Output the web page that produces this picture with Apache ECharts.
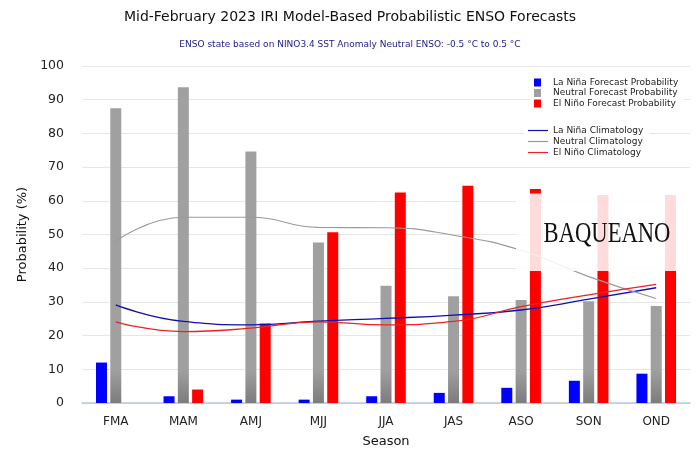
<!DOCTYPE html>
<html>
<head>
<meta charset="utf-8">
<script src="https://cdn.jsdelivr.net/npm/echarts@6/dist/echarts.min.js"></script>
<style>
  html, body { margin: 0; padding: 0; background: #fff; }
  #main { width: 700px; height: 467px; }
</style>
</head>
<body>
<div id="main"></div>
<script>
var seasons = ['FMA', 'MAM', 'AMJ', 'MJJ', 'JJA', 'JAS', 'ASO', 'SON', 'OND'];

// forecast probabilities (%)
var laNinaProb  = [12, 2, 1, 1, 2, 3, 4.5, 6.6, 8.7];
var neutralProb = [87.5, 93.7, 74.6, 47.6, 34.8, 31.7, 30.6, 30.2, 28.8];
var elNinoProb  = [0, 4, 23.6, 50.7, 62.5, 64.5, 63.5, 61.7, 61.7];

// climatology (%)
var laNinaClim  = [29.1, 24.2, 23.2, 24.3, 25.1, 26.1, 27.6, 30.8, 34.2];
var neutralClim = [48, 55.1, 55.1, 52.1, 52, 49.8, 45.3, 37.5, 31];
var elNinoClim  = [24.1, 21.2, 22.2, 24.1, 23.2, 24.2, 28.6, 32.1, 35.2];

var yTicks = { min: 0, max: 100, step: 10 };

var myChart = echarts.init(document.getElementById('main'));
var font = 'DejaVu Sans';

// neutral bars get darker near the base
var grayFill = new echarts.graphic.LinearGradient(0, 370, 0, 403, [
    { offset: 0, color: '#a0a0a0' },
    { offset: 1, color: '#7c7c7c' }
], true);

option = {
    backgroundColor: '#fff',
    animation: false,
    title: [{
        text: 'Mid-February 2023 IRI Model-Based Probabilistic ENSO Forecasts',
        left: 'center',
        top: 5,
        textStyle: { fontFamily: font, fontSize: 14, fontWeight: 'normal', color: '#111' }
    }, {
        text: 'ENSO state based on NINO3.4 SST Anomaly Neutral ENSO: -0.5 °C to 0.5 °C',
        left: 'center',
        top: 35,
        textStyle: { fontFamily: font, fontSize: 9, fontWeight: 'normal', color: '#1c1c88' }
    }],
    legend: [{
        data: ['La Niña Forecast Probability', 'Neutral Forecast Probability', 'El Niño Forecast Probability'],
        orient: 'vertical',
        left: 530,
        top: 74,
        padding: [4, 6, 4, 4],
        backgroundColor: '#fff',
        icon: 'rect',
        itemWidth: 7,
        itemHeight: 8,
        itemGap: 1.5,
        textStyle: { fontFamily: font, fontSize: 9, color: '#222', padding: [0, 0, 0, 7] }
    }, {
        data: ['La Niña Climatology', 'Neutral Climatology', 'El Niño Climatology'],
        orient: 'vertical',
        left: 524,
        top: 122,
        padding: [4, 6, 4, 4],
        backgroundColor: '#fff',
        icon: 'rect',
        itemWidth: 20,
        itemHeight: 1.2,
        itemGap: 2,
        textStyle: { fontFamily: font, fontSize: 9, color: '#222' }
    }],
    grid: { left: 82, right: 10, top: 66, bottom: 64 },
    xAxis: {
        type: 'category',
        data: seasons,
        name: 'Season',
        nameLocation: 'middle',
        nameGap: 32,
        nameTextStyle: { fontFamily: font, fontSize: 13, color: '#111' },
        axisLine: { lineStyle: { color: '#b7c6df', width: 1.5 } },
        axisTick: { show: false },
        axisLabel: { fontFamily: font, fontSize: 12, color: '#222', margin: 13 }
    },
    yAxis: {
        type: 'value',
        min: yTicks.min,
        max: yTicks.max,
        interval: yTicks.step,
        name: 'Probability (%)',
        nameLocation: 'middle',
        nameGap: 52,
        nameTextStyle: { fontFamily: font, fontSize: 13, color: '#111' },
        axisLine: { show: false },
        axisTick: { show: false },
        axisLabel: { fontFamily: font, fontSize: 12.5, color: '#222', margin: 18 },
        splitLine: { lineStyle: { color: '#e6e6e6', width: 1 } }
    },
    series: [{
        name: 'La Niña Forecast Probability',
        type: 'bar',
        data: laNinaProb,
        barWidth: 11,
        barGap: '30%',
        itemStyle: { color: '#0000ff' }
    }, {
        name: 'Neutral Forecast Probability',
        type: 'bar',
        data: neutralProb,
        barWidth: 11,
        barGap: '30%',
        itemStyle: { color: grayFill }
    }, {
        name: 'El Niño Forecast Probability',
        type: 'bar',
        data: elNinoProb,
        barWidth: 11,
        barGap: '30%',
        itemStyle: { color: '#ff0000' }
    }, {
        name: 'La Niña Climatology',
        type: 'line',
        data: laNinaClim,
        smooth: 0.5,
        showSymbol: false,
        itemStyle: { color: '#1010b0' },
        lineStyle: { color: '#1010b0', width: 1.3 }
    }, {
        name: 'Neutral Climatology',
        type: 'line',
        data: neutralClim,
        smooth: 0.5,
        showSymbol: false,
        itemStyle: { color: '#9a9a9a' },
        lineStyle: { color: '#9a9a9a', width: 1.1 }
    }, {
        name: 'El Niño Climatology',
        type: 'line',
        data: elNinoClim,
        smooth: 0.5,
        showSymbol: false,
        itemStyle: { color: '#f02020' },
        lineStyle: { color: '#f02020', width: 1.3 }
    }],
    graphic: [{
        type: 'rect',
        z: 100,
        shape: { x: 516, y: 193.5, width: 174, height: 77.5 },
        style: { fill: 'rgba(255,255,255,0.86)' }
    }, {
        type: 'text',
        z: 101,
        x: 607,
        y: 234,
        scaleX: 0.78,
        style: {
            text: 'BAQUEANO',
            fontFamily: 'Liberation Serif',
            fontSize: 29,
            fill: '#111',
            align: 'center',
            verticalAlign: 'middle'
        }
    }]
};

myChart.setOption(option);
</script>
</body>
</html>
